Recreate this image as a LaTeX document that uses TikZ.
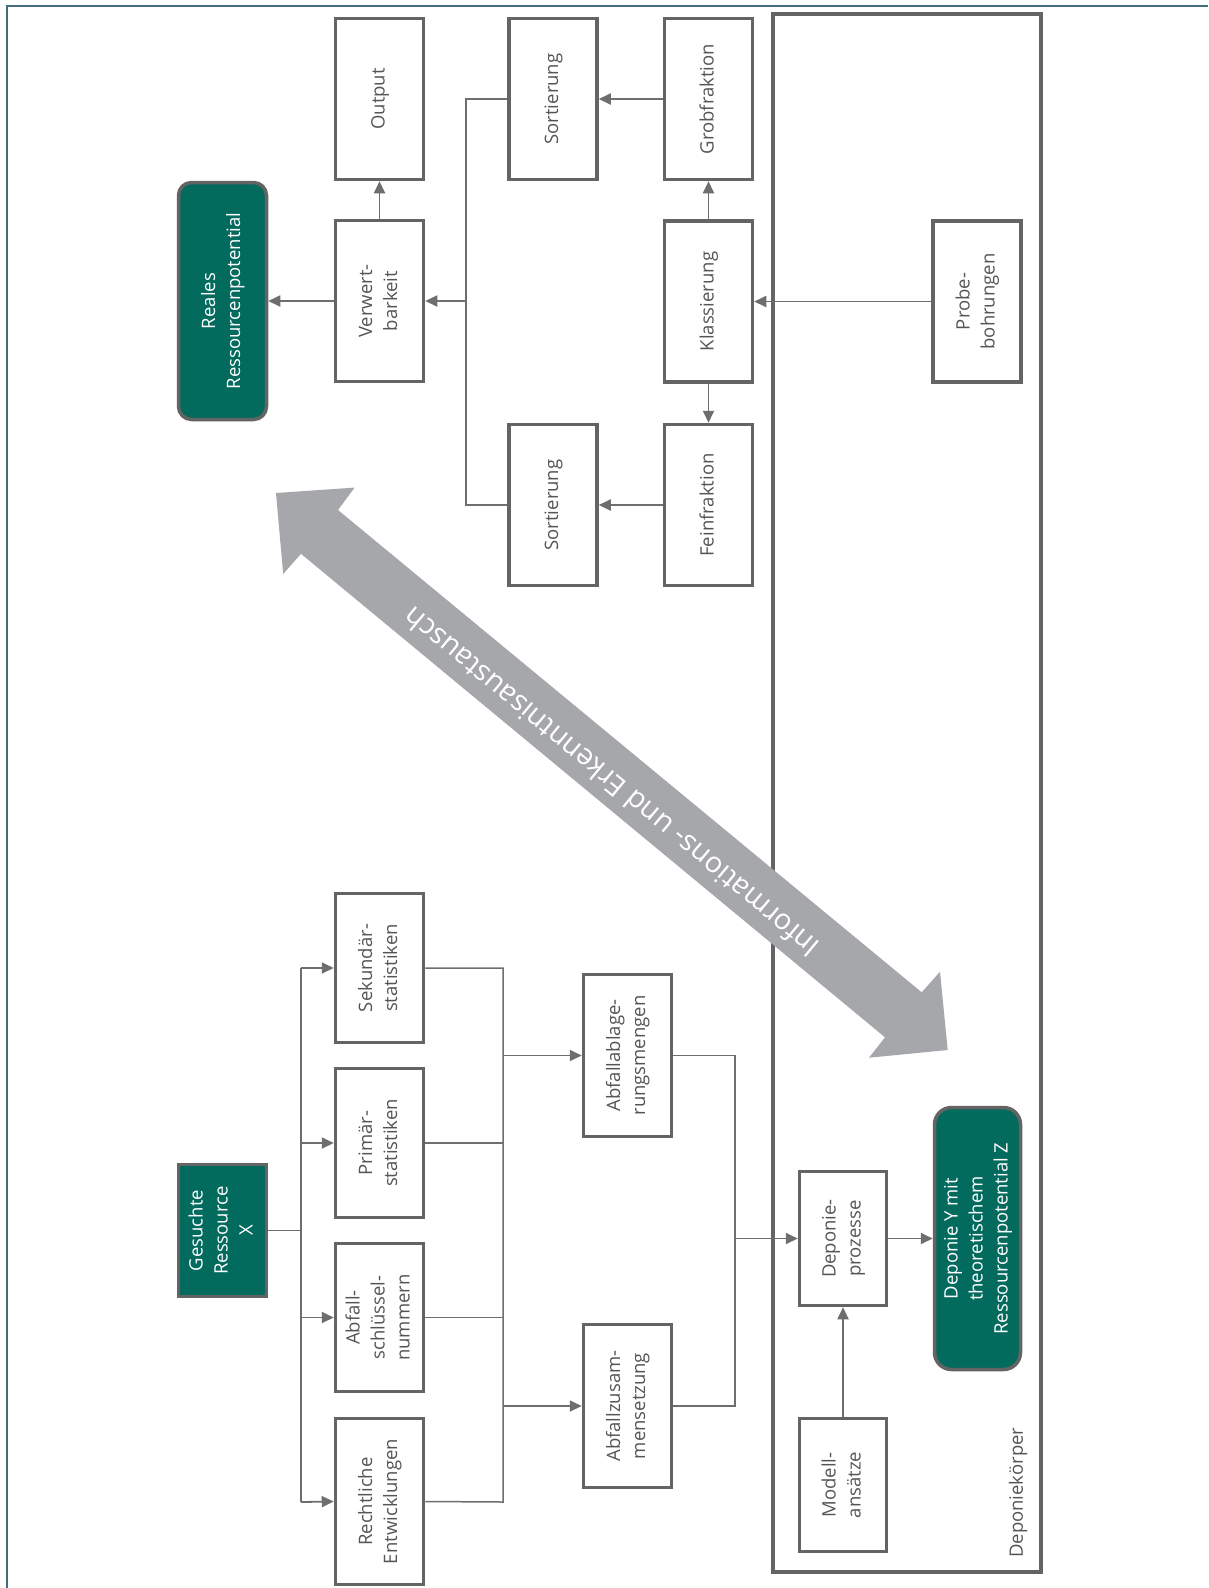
\documentclass[tikz,border=0pt]{standalone}
\usepackage{fontspec}
\setmainfont{Open Sans}
\usetikzlibrary{arrows.meta}
\definecolor{tealc}{RGB}{3,106,94}
\definecolor{boxgray}{RGB}{100,100,100}
\definecolor{txtgray}{RGB}{85,85,85}
\definecolor{linegray}{RGB}{110,110,110}
\definecolor{bigarrow}{RGB}{166,167,170}
\definecolor{framec}{RGB}{66,107,128}
\newcommand\rlab[1]{\rotatebox{90}{\begin{tabular}{@{}c@{}}#1\end{tabular}}}
\tikzset{
  boxn/.style={draw=boxgray, line width=3.5pt, fill=white, minimum width=88pt, inner sep=0pt,
    text=txtgray, font={\fontsize{18.5}{25}\selectfont}},
  tealn/.style={boxn, fill=tealc, text=white},
  roundn/.style={tealn, rounded corners=13pt},
  conn/.style={draw=linegray, line width=1.8pt},
  arr/.style={conn, -{Triangle[length=12pt,width=11pt]}},
}
\begin{document}
\begin{tikzpicture}[x=1pt,y=-1pt]
\useasboundingbox[fill=white] (0,0) rectangle (1208,1588);
% outer frame (top and left visible)
\draw[framec, line width=2.2pt] (6.7,1588) -- (6.7,5.7) -- (1208,5.7);
% Deponiekoerper frame
\draw[boxgray, line width=3.5pt] (773,14) rectangle (1041,1572);
\node[rotate=90, anchor=west, inner sep=0pt, text=txtgray, font={\fontsize{18.5}{25}\selectfont}] (dklabel) at (1018,1558) {Deponiekörper};

% upper part
\node[roundn, minimum height=237pt] (reales) at (222.5,301) {\rlab{Reales\\Ressourcenpotential}};
\node[boxn, minimum height=161pt] (output) at (379.5,99) {\rlab{Output}};
\node[boxn, minimum height=161pt] (verw) at (379.5,301) {\rlab{Verwert-\\barkeit}};
\node[boxn, minimum height=161pt] (sort1) at (553,99) {\rlab{Sortierung}};
\node[boxn, minimum height=161pt] (sort2) at (553,505) {\rlab{Sortierung}};
\node[boxn, minimum height=161pt] (grob) at (708.5,99) {\rlab{Grobfraktion}};
\node[boxn, minimum height=161pt] (klass) at (708.5,301.5) {\rlab{Klassierung}};
\node[boxn, minimum height=161pt] (fein) at (708.5,505) {\rlab{Feinfraktion}};
\node[boxn, minimum height=161pt] (probe) at (977,301.5) {\rlab{Probe-\\bohrungen}};

\coordinate (tr) at (466,301);
\draw[conn, line width=1.5pt] (sort1.west) -| (tr) |- (sort2.west);
\draw[arr] (tr) -- (verw.east);
\draw[arr] (verw.west) -- (reales.east);
\draw[arr] (verw.north) -- (output.south);
\draw[arr] (grob.west) -- (sort1.east);
\draw[arr] (fein.west) -- (sort2.east);
\draw[arr] (klass.north) -- (grob.south);
\draw[arr] (klass.south) -- (fein.north);
\draw[arr] (probe.west) -- (klass.east);

% lower part
\node[tealn, minimum height=132pt] (ges) at (222.5,1230.5) {\rlab{Gesuchte\\Ressource\\X}};
\node[boxn, minimum height=149pt] (sek) at (379.5,968) {\rlab{Sekundär-\\statistiken}};
\node[boxn, minimum height=149pt] (prim) at (379.5,1143) {\rlab{Primär-\\statistiken}};
\node[boxn, minimum height=148pt] (abfs) at (379.5,1317.5) {\rlab{Abfall-\\schlüssel-\\nummern}};
\node[boxn, minimum height=166pt] (recht) at (379.5,1501.5) {\rlab{Rechtliche\\Entwicklungen}};
\node[boxn, minimum height=162pt] (abfabl) at (627.5,1055.5) {\rlab{Abfallablage-\\rungsmengen}};
\node[boxn, minimum height=163pt] (abfzus) at (627.5,1406) {\rlab{Abfallzusam-\\mensetzung}};
\node[boxn, minimum width=87pt, minimum height=134pt] (depp) at (843,1238.5) {\rlab{Deponie-\\prozesse}};
\node[roundn, minimum width=86pt, minimum height=262pt, rounded corners=17pt] (depy) at (977.5,1238.5) {\rlab{Deponie Y mit\\theoretischem\\Ressourcenpotential Z}};
\node[boxn, minimum width=87pt, minimum height=133pt] (modell) at (843,1485) {\rlab{Modell-\\ansätze}};

\coordinate (lt) at (301,1230.5);
\coordinate (lt1) at (301,968);
\coordinate (lt2) at (301,1502);
\draw[conn, line width=1.5pt] (ges.east) -- (lt);
\draw[conn, line width=1.5pt] (lt1) -- (lt2);
\draw[arr] (lt1) -- (sek.west);
\draw[arr] (301,1143) -- (prim.west);
\draw[arr] (301,1317.5) -- (abfs.west);
\draw[arr] (lt2) -- (recht.west);

\coordinate (rt1) at (503,968);
\coordinate (rt2) at (503,1502);
\draw[conn, line width=1.5pt] (sek.east) -- (rt1) -- (rt2) -- (recht.east);
\draw[conn, line width=1.5pt] (prim.east) -- (503,1143);
\draw[conn, line width=1.5pt] (abfs.east) -- (503,1317.5);
\draw[arr] (503,1055.5) -- (abfabl.west);
\draw[arr] (503,1406) -- (abfzus.west);

\coordinate (mt) at (735,1238.5);
\draw[conn, line width=1.5pt] (abfabl.east) -| (mt) |- (abfzus.east);
\draw[arr] (mt) -- (depp.west);
\draw[arr] (depp.east) -- (depy.west);
\draw[arr] (modell.north) -- (depp.south);

% big double arrow
\fill[bigarrow] (276,493) -- (354.6,487.6) -- (338,510) -- (921.7,992.3) -- (940,971.7)
  -- (947.7,1050) -- (869,1057.7) -- (885,1037.3) -- (301,553.8) -- (283.2,574) -- cycle;
\node[rotate=140.33, text=white, inner sep=0pt, font={\fontsize{28.8}{34}\selectfont}] (info) at (611,783) {Informations- und Erkenntnisaustausch};
\end{tikzpicture}
\end{document}
